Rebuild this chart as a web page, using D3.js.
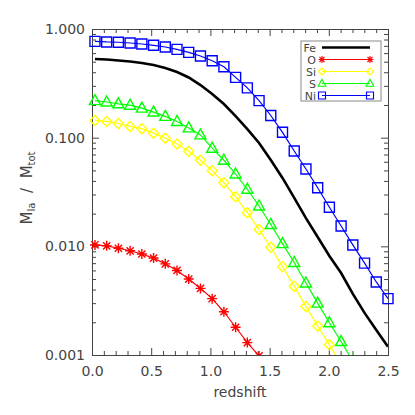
<!DOCTYPE html>
<html>
<head>
<meta charset="utf-8">
<script src="https://cdn.jsdelivr.net/npm/d3@7"></script>
<style>
  body { margin: 0; background: #fff; }
  text { font-family: "DejaVu Sans", sans-serif; fill: #444; white-space: pre; }
</style>
</head>
<body>
<div id="chart"></div>
<script>
// redshift of the plotted points (marker positions)
var redshift = [0.025, 0.124, 0.223, 0.322, 0.421, 0.520, 0.619, 0.718, 0.817, 0.916,
                1.015, 1.114, 1.213, 1.312, 1.411, 1.510, 1.609, 1.708, 1.807, 1.906,
                2.005, 2.104, 2.203, 2.302, 2.401, 2.500];

// mass fractions M_Ia / M_tot
var fe = [0.530, 0.524, 0.513, 0.502, 0.487, 0.467, 0.438, 0.402, 0.358, 0.305,
          0.252, 0.204, 0.158, 0.120, 0.0893, 0.0623, 0.0426, 0.0279, 0.0182, 0.0122,
          0.00815, 0.00568, 0.00365, 0.00244, 0.00170, 0.00119];
var oxygen = [0.0103, 0.0101, 0.0096, 0.0091, 0.0085, 0.0078, 0.0069, 0.0060, 0.0050, 0.0041,
              0.0033, 0.0025, 0.0018, 0.0013, 0.00098, 0.0007, null, null, null, null,
              null, null, null, null, null, null];
var silicon = [0.144, 0.141, 0.135, 0.127, 0.121, 0.110, 0.099, 0.0875, 0.075, 0.062,
               0.0497, 0.0385, 0.0286, 0.0204, 0.0143, 0.0098, 0.0065, 0.0043, 0.0028, 0.00185,
               0.00124, 0.00082, null, null, null, null];
var sulphur = [0.219, 0.213, 0.205, 0.199, 0.187, 0.172, 0.157, 0.141, 0.123, 0.106,
               0.080, 0.062, 0.0463, 0.0335, 0.0235, 0.0159, 0.0106, 0.0071, 0.0046, 0.0030,
               0.00198, 0.00133, 0.00088, null, null, null];
var nickel = [0.770, 0.760, 0.755, 0.743, 0.728, 0.708, 0.683, 0.650, 0.610, 0.564,
              0.511, 0.450, 0.359, 0.287, 0.219, 0.160, 0.112, 0.0754, 0.0515, 0.0346,
              0.0229, 0.0154, 0.0103, 0.0070, 0.0047, 0.0033];

var names = ["Fe", "O", "Si", "S", "Ni"];
var colors = ["#000000", "#ff0000", "#ffff00", "#00ff00", "#0000ff"];
var symbols = [null, "asterisk", "diamond", "triangle", "square"];
var values = [fe, oxygen, silicon, sulphur, nickel];

var xTicks = [0, 0.5, 1.0, 1.5, 2.0, 2.5];
var yTicks = [1, 0.1, 0.01, 0.001];
var yTickLabels = ["1.000", "0.100", "0.010", "0.001"];

var margin = { top: 29, right: 27, bottom: 60, left: 92 },
    width = 415 - margin.left - margin.right,
    height = 415 - margin.top - margin.bottom;

var x = d3.scaleLinear().domain([0, 2.5]).range([0, width]);
var y = d3.scaleLog().domain([0.001, 1]).range([height, 0]);

var svg = d3.select("#chart")
    .append("svg")
    .attr("width", 415)
    .attr("height", 415)
    .append("g")
    .attr("transform", "translate(" + margin.left + "," + margin.top + ")");

svg.append("clipPath").attr("id", "clipLines")
    .append("rect").attr("width", width).attr("height", height);
svg.append("clipPath").attr("id", "clipMarks")
    .append("rect").attr("x", -8).attr("y", -8)
    .attr("width", width + 16).attr("height", height + 8);

// minor ticks: every 0.1 on x, 2..9 on each decade of y
var xMinor = d3.range(0, 26).map(function (i) { return i / 10; })
    .filter(function (v) { return Math.round(v * 10) % 5 !== 0; });
var yMinor = y.ticks().filter(function (v) { return yTicks.indexOf(v) < 0; });

var axisStyle = function (g) {
    g.select(".domain").attr("stroke", "#444");
    g.selectAll(".tick line").attr("stroke", "#444");
    g.selectAll(".tick text").attr("font-size", 14).attr("fill", "#444")
        .attr("font-family", "DejaVu Sans, sans-serif");
};

// bottom
svg.append("g").attr("transform", "translate(0," + height + ")")
    .call(d3.axisBottom(x).tickValues(xTicks).tickSize(-7).tickPadding(11)
        .tickFormat(d3.format(".1f")))
    .call(axisStyle);
svg.append("g").attr("transform", "translate(0," + height + ")")
    .call(d3.axisBottom(x).tickValues(xMinor).tickSize(-4).tickFormat(""))
    .call(axisStyle);
// top
svg.append("g")
    .call(d3.axisTop(x).tickValues(xTicks).tickSize(-7).tickFormat(""))
    .call(axisStyle);
svg.append("g")
    .call(d3.axisTop(x).tickValues(xMinor).tickSize(-4).tickFormat(""))
    .call(axisStyle);
// left
svg.append("g")
    .call(d3.axisLeft(y).tickValues(yTicks).tickSize(-7).tickPadding(7)
        .tickFormat(function (d, i) { return yTickLabels[i]; }))
    .call(axisStyle);
svg.append("g")
    .call(d3.axisLeft(y).tickValues(yMinor).tickSize(-4).tickFormat(""))
    .call(axisStyle);
// right
svg.append("g").attr("transform", "translate(" + width + ",0)")
    .call(d3.axisRight(y).tickValues(yTicks).tickSize(-7).tickFormat(""))
    .call(axisStyle);
svg.append("g").attr("transform", "translate(" + width + ",0)")
    .call(d3.axisRight(y).tickValues(yMinor).tickSize(-4).tickFormat(""))
    .call(axisStyle);

// marker shapes
var markerPath = function (type) {
    if (type === "square") return "M-5,-5H5V5H-5Z";
    if (type === "triangle") return "M0,-6L5.5,4L-5.5,4Z";
    if (type === "diamond") return "M0,-5L5,0L0,5L-5,0Z";
    if (type === "asterisk") return "M-5,0H5M0,-5V5M-3.6,-3.6L3.6,3.6M-3.6,3.6L3.6,-3.6";
    return "";
};

var line = d3.line()
    .defined(function (d) { return d.v != null; })
    .x(function (d) { return x(d.z); })
    .y(function (d) { return y(d.v); });

values.forEach(function (vals, s) {
    var pts = redshift.map(function (z, i) { return { z: z, v: vals[i] }; });
    svg.append("path")
        .datum(pts)
        .attr("clip-path", "url(#clipLines)")
        .attr("fill", "none")
        .attr("stroke", colors[s])
        .attr("stroke-width", s === 0 ? 2.6 : 1.2)
        .attr("d", line);
    if (symbols[s]) {
        svg.append("g").attr("clip-path", "url(#clipMarks)")
            .selectAll("path")
            .data(pts.filter(function (d) { return d.v != null; }))
            .enter().append("path")
            .attr("transform", function (d) {
                return "translate(" + x(d.z) + "," + y(d.v) + ")";
            })
            .attr("d", markerPath(symbols[s]))
            .attr("fill", "none")
            .attr("stroke", colors[s])
            .attr("stroke-width", 1.4);
    }
});

// legend
var legend = svg.append("g").attr("transform", "translate(" + (301 - margin.left) + "," + (41 - margin.top) + ")");
legend.append("rect")
    .attr("width", 80).attr("height", 60)
    .attr("fill", "#fff").attr("stroke", "#888").attr("stroke-width", 1);
names.forEach(function (name, s) {
    var ly = 6.5 + s * 12;
    legend.append("text")
        .attr("x", 15).attr("y", ly + 4)
        .attr("text-anchor", "end")
        .attr("font-size", 11)
        .text(name);
    legend.append("line")
        .attr("x1", 21).attr("x2", 69)
        .attr("y1", ly).attr("y2", ly)
        .attr("stroke", colors[s])
        .attr("stroke-width", s === 0 ? 2.6 : 1.2);
    if (symbols[s]) {
        [21, 69].forEach(function (lx) {
            legend.append("path")
                .attr("transform", "translate(" + lx + "," + ly + ") scale(0.7)")
                .attr("d", markerPath(symbols[s]))
                .attr("fill", "none")
                .attr("stroke", colors[s])
                .attr("stroke-width", 1.6);
        });
    }
});

// axis titles
svg.append("text")
    .attr("x", width / 2).attr("y", height + 42)
    .attr("text-anchor", "middle")
    .attr("font-size", 14)
    .text("redshift");

var yTitle = svg.append("text")
    .attr("transform", "translate(" + (32 - margin.left) + "," + 159 + ") rotate(-90)")
    .attr("text-anchor", "middle")
    .attr("font-size", 15);
yTitle.append("tspan").text("M");
yTitle.append("tspan").attr("font-size", 10).attr("dy", 3).text("Ia");
yTitle.append("tspan").attr("dy", -3).text("  /  M");
yTitle.append("tspan").attr("font-size", 10).attr("dy", 3).text("tot");
</script>
</body>
</html>
